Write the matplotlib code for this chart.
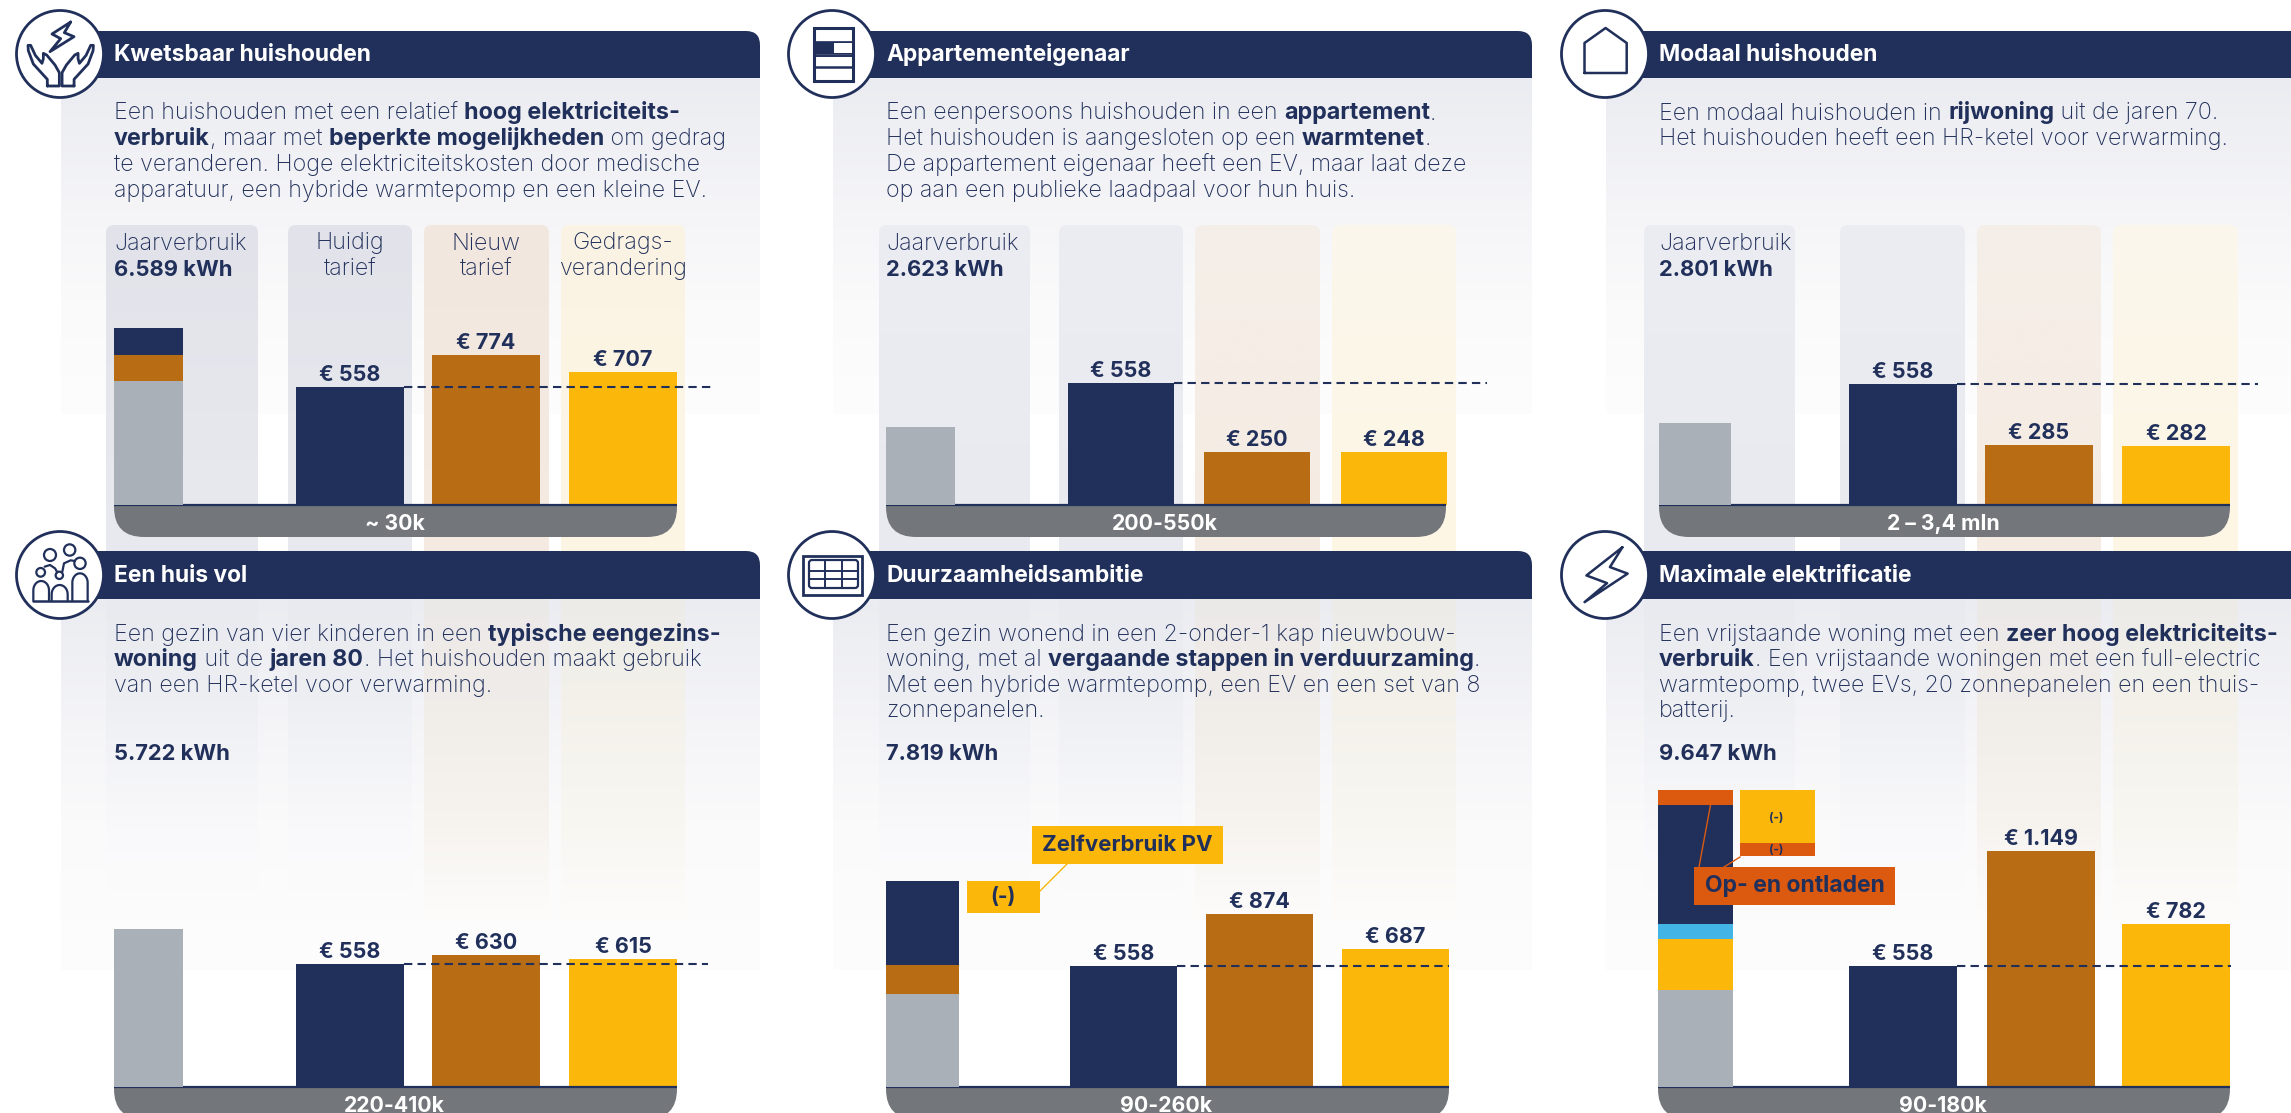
import numpy as np
import matplotlib
matplotlib.use("Agg")
import matplotlib.pyplot as plt
from matplotlib.colors import to_rgb
from matplotlib.patches import Circle, FancyBboxPatch, PathPatch, Rectangle
from matplotlib.path import Path

plt.rcParams['font.family'] = ['Inter', 'DejaVu Sans']

W, H = 2291, 1113
NAVY = '#21305b'
ORANGE = '#b86c14'
YELLOW = '#fbb80a'
GREY = '#a9b0b7'
BLUE = '#42b4e6'
RED = '#dc5a0f'
BAND = '#73777b'

# --- data
titles = ['Kwetsbaar huishouden', 'Appartementeigenaar', 'Modaal huishouden',
          'Een huis vol', 'Duurzaamheidsambitie', 'Maximale elektrificatie']
groups = ['~ 30k', '200-550k', '2 – 3,4 mln', '220-410k', '90-260k', '90-180k']
kwh_labels = ['6.589 kWh', '2.623 kWh', '2.801 kWh', '5.722 kWh', '7.819 kWh', '9.647 kWh']

# printed amounts
tariff_labels = [[558, 774, 707], [558, 250, 248], [558, 285, 282],
                 [558, 630, 615], [558, 874, 687], [558, 1149, 782]]
# the bars in the picture are not drawn to the printed amounts, these are read off the bars
tariff_bars = [[541, 692, 613], [561, 244, 244], [558, 276, 271],
               [566, 607, 587], [557, 796, 635], [557, 1086, 750]]

# stacked year consumption, bottom to top
kwh_1 = [(4616, GREY), (968, ORANGE), (1005, NAVY)]
kwh_2 = [(2623, GREY)]
kwh_3 = [(2801, GREY)]
kwh_4 = [(5722, GREY)]
kwh_5 = [(3530, GREY), (1101, ORANGE), (3188, NAVY)]
kwh_6 = [(3151, GREY), (1657, YELLOW), (474, BLUE), (3865, NAVY), (500, RED)]
kwh_stacks = [kwh_1, kwh_2, kwh_3, kwh_4, kwh_5, kwh_6]

# floating (-) blocks: panel index, value, value at the top of the block, colour
minus_blocks = [(4, 1214, 7819, YELLOW), (5, 1722, 9647, YELLOW), (5, 422, 7925, RED)]

texts = [
    [[('Een huishouden met een relatief ', 0), ('hoog elektriciteits-', 1)],
     [('verbruik', 1), (', maar met ', 0), ('beperkte mogelijkheden', 1), (' om gedrag', 0)],
     [('te veranderen. Hoge elektriciteitskosten door medische', 0)],
     [('apparatuur, een hybride warmtepomp en een kleine EV.', 0)]],
    [[('Een eenpersoons huishouden in een ', 0), ('appartement', 1), ('.', 0)],
     [('Het huishouden is aangesloten op een ', 0), ('warmtenet', 1), ('.', 0)],
     [('De appartement eigenaar heeft een EV, maar laat deze', 0)],
     [('op aan een publieke laadpaal voor hun huis.', 0)]],
    [[('Een modaal huishouden in ', 0), ('rijwoning', 1), (' uit de jaren 70.', 0)],
     [('Het huishouden heeft een HR-ketel voor verwarming.', 0)]],
    [[('Een gezin van vier kinderen in een ', 0), ('typische eengezins-', 1)],
     [('woning', 1), (' uit de ', 0), ('jaren 80', 1), ('. Het huishouden maakt gebruik', 0)],
     [('van een HR-ketel voor verwarming.', 0)]],
    [[('Een gezin wonend in een 2-onder-1 kap nieuwbouw-', 0)],
     [('woning, met al ', 0), ('vergaande stappen in verduurzaming', 1), ('.', 0)],
     [('Met een hybride warmtepomp, een EV en een set van 8', 0)],
     [('zonnepanelen.', 0)]],
    [[('Een vrijstaande woning met een ', 0), ('zeer hoog elektriciteits-', 1)],
     [('verbruik', 1), ('. Een vrijstaande woningen met een full-electric', 0)],
     [('warmtepomp, twee EVs, 20 zonnepanelen en een thuis-', 0)],
     [('batterij.', 0)]],
]

col_heads = ['Huidig\ntarief', 'Nieuw\ntarief', 'Gedrags-\nverandering']

# --- layout, in pixels of the picture
icon_x = [60, 832, 1605, 60, 832, 1605]
body_left = [61, 833, 1606, 61, 833, 1606]
head_right = [760, 1532, 2320, 760, 1532, 2320]
text_x = [114, 886, 1659, 114, 886, 1659]
kwh_bar_x = [(114, 183), (886, 955), (1659, 1731), (114, 183), (886, 959), (1658, 1733)]
tariff_bar_x = [[(296, 404), (432, 540), (569, 677)],
                [(1068, 1174), (1204, 1310), (1341, 1447)],
                [(1849, 1957), (1985, 2093), (2122, 2230)],
                [(296, 404), (432, 540), (569, 677)],
                [(1070, 1177), (1206, 1313), (1342, 1449)],
                [(1849, 1957), (1987, 2095), (2122, 2230)]]
band_x = [(114, 677), (886, 1446), (1659, 2230), (114, 677), (886, 1449), (1658, 2230)]
dash_end = [712, 1487, 2258, 708, 1449, 2231]
col_x = [[(106, 258), (288, 412), (424, 549), (561, 685)],
         [(879, 1030), (1059, 1183), (1195, 1320), (1332, 1456)],
         [(1644, 1795), (1840, 1965), (1977, 2101), (2113, 2238)]]
kwh_px = [177, 78, 82, 158, 206, 297]  # height of the stack
minus_x = [None, None, None, None, (967, 1040), (1740, 1815)]
EUR_PER_PX = 4.6
AX_PX = 320
BODY_SIZE = 16.75


def grad_rect(ax, x0, x1, y0, y1, stops, radius=0, zorder=1):
    ys = np.arange(y0, y1 + 1)
    pos = [s[0] for s in stops]
    cols = np.array([to_rgb(s[1]) for s in stops])
    img = np.stack([np.interp(ys, pos, cols[:, i]) for i in range(3)], axis=1)[:, None, :]
    im = ax.imshow(img, extent=(x0, x1, y1, y0), aspect='auto', interpolation='bilinear', zorder=zorder)
    if radius:
        clip = FancyBboxPatch((x0 + radius, y0 + radius), x1 - x0 - 2 * radius, y1 - y0,
                              boxstyle=f'round,pad={radius},rounding_size={radius}',
                              transform=ax.transData, fc='none', ec='none')
        im.set_clip_path(clip)
    return im


def rounded(x0, x1, y0, y1, r, corners):
    # corners: which of tl, tr, br, bl are rounded
    verts = []
    codes = []

    def corner(px, py, ax_, ay_, bx, by, on):
        if on:
            verts.extend([(ax_, ay_), (px, py), (bx, by)])
            codes.extend([Path.LINETO, Path.CURVE3, Path.CURVE3])
        else:
            verts.append((px, py))
            codes.append(Path.LINETO)
    corner(x0, y0, x0, y0 + r, x0 + r, y0, 'tl' in corners)
    corner(x1, y0, x1 - r, y0, x1, y0 + r, 'tr' in corners)
    corner(x1, y1, x1, y1 - r, x1 - r, y1, 'br' in corners)
    corner(x0, y1, x0 + r, y1, x0, y1 - r, 'bl' in corners)
    codes[0] = Path.MOVETO
    verts.append(verts[0])
    codes.append(Path.CLOSEPOLY)
    return Path(verts, codes)


def seg_width(ax, s, **kw):
    r = fig.canvas.get_renderer()
    a = ax.text(0, 0, s + '.', **kw)
    b = ax.text(0, 0, '.', **kw)
    w = a.get_window_extent(r).width - b.get_window_extent(r).width
    a.remove()
    b.remove()
    return w


def rich_line(ax, x, y, segs):
    for s, bold in segs:
        kw = dict(fontsize=BODY_SIZE, color=NAVY, weight='bold' if bold else 'light')
        ax.text(x, y, s, va='baseline', ha='left', zorder=6, **kw)
        x += seg_width(ax, s, **kw)


def stroke(ax, pts, lw=2.0, closed=False, **kw):
    p = np.array(pts, dtype=float)
    if closed:
        p = np.vstack([p, p[:1]])
    ax.plot(p[:, 0], p[:, 1], color=NAVY, lw=lw, solid_joinstyle='round', solid_capstyle='round', zorder=8, **kw)


def icon_hands(ax):
    pts = np.array([(142, 258), (142, 238), (100, 192), (85, 152), (84, 136), (92, 136), (106, 166), (126, 190),
                    (130, 176), (130, 160), (140, 165), (165, 195), (178, 218), (178, 258)]) / 3
    stroke(ax, pts, closed=True)
    m = pts.copy()
    m[:, 0] = 2 * 60.7 - m[:, 0]
    stroke(ax, m, closed=True)
    stroke(ax, np.array([(212, 66), (156, 102), (182, 116), (150, 155), (222, 110), (193, 98)]) / 3, closed=True)


def icon_family(ax):
    oy = 515
    for cx_, cy_, r in [(150, 120, 18), (209, 105, 17), (240, 145, 17), (122, 172, 13), (178, 181, 11)]:
        ax.add_patch(Circle((cx_ / 3, oy + cy_ / 3), r / 3, fc='white', ec=NAVY, lw=1.6, zorder=8))
    for x0, x1, tp in [(100, 147, 198), (155, 203, 210), (217, 263, 175)]:
        t = np.linspace(np.pi, 0, 20)
        xs = (x0 + x1) / 2 + (x1 - x0) / 2 * np.cos(t)
        ys = tp + 28 - 28 * np.sin(t)
        stroke(ax, np.column_stack([np.r_[x0, xs, x1] / 3, oy + np.r_[256, ys, 256] / 3]), lw=1.6)
    stroke(ax, [(98 / 3, oy + 257 / 3), (265 / 3, oy + 257 / 3)], lw=1.8)
    stroke(ax, np.array([(134, 155), (150, 150), (165, 160), (172, 172)]) / 3 + [0, oy], lw=1.6)
    stroke(ax, np.array([(187, 170), (192, 145), (212, 136), (224, 138)]) / 3 + [0, oy], lw=1.6)


def icon_building(ax):
    ax.add_patch(Rectangle((814, 28), 39, 53, fc='white', ec=NAVY, lw=2.2, zorder=8))
    ax.add_patch(Rectangle((814, 40.5), 39, 13.5, fc=NAVY, ec=NAVY, lw=0.5, zorder=8))
    ax.add_patch(Rectangle((834, 43), 17.5, 10, fc='white', ec='none', zorder=8))
    stroke(ax, [(814, 55.5), (853, 55.5)], lw=1.4)
    stroke(ax, [(814, 67), (853, 67)], lw=1.8)


def icon_house(ax):
    stroke(ax, [(1584.5, 73), (1584.5, 43), (1605.6, 28), (1626.7, 43), (1626.7, 73)], closed=True, lw=1.8)


def icon_solar(ax):
    ax.add_patch(Rectangle((803, 556), 59, 39, fc='white', ec=NAVY, lw=2.0, zorder=8))
    ax.add_patch(FancyBboxPatch((810, 561), 47, 26, boxstyle='round,pad=1,rounding_size=3', fc='white', ec=NAVY, lw=1.6, zorder=8))
    for x in (825, 842):
        stroke(ax, [(x, 560), (x, 588)], lw=1.4)
    for y in (571, 579):
        stroke(ax, [(809, y), (858, y)], lw=1.4)


def icon_bolt(ax):
    pts = [(172, 20), (97, 97), (140, 118), (93, 170), (183, 92), (146, 74)]
    stroke(ax, [(1540 + x / 2.088, 540 + y / 2.736) for x, y in pts], closed=True, lw=1.8)


icons = [icon_hands, icon_building, icon_house, icon_family, icon_solar, icon_bolt]

fig = plt.figure(figsize=(W / 100, H / 100), dpi=100, facecolor='white')

bg = fig.add_axes([0, 0, 1, 1], zorder=0)
bg.set_autoscale_on(False)
bg.set_xlim(0, W)
bg.set_ylim(H, 0)
bg.axis('off')

top = fig.add_axes([0, 0, 1, 1], zorder=5)
top.set_autoscale_on(False)
top.set_xlim(0, W)
top.set_ylim(H, 0)
top.axis('off')
top.patch.set_alpha(0)

for p in range(6):
    row = p // 3
    head_top = 31 if row == 0 else 551
    head_bot = 78 if row == 0 else 599
    base = 505 if row == 0 else 1087
    cy = 54 if row == 0 else 575

    # body gradient
    if row == 0:
        stops = [(78, '#ebecf1'), (210, '#f5f5f8'), (300, '#fafafb'), (414, '#fdfdfe')]
        grad_rect(bg, body_left[p], min(head_right[p], W), 78, 414, stops, zorder=1)
    else:
        stops = [(598, '#ebecf1'), (730, '#f5f5f8'), (820, '#fafafb'), (970, '#fdfdfe')]
        grad_rect(bg, body_left[p], min(head_right[p], W), 598, 970, stops, zorder=1)

    # column strips
    for c, (x0, x1) in enumerate(col_x[p % 3]):
        if row == 0:
            if p == 0:
                t = ['#e2e3ea', '#e2e3ea', '#f1e7de', '#faf3e3'][c]
            else:
                t = ['#ecedf2', '#ecedf2', '#f5efe9', '#fbf7ec'][c]
            b = ['#e9eaef', '#e9eaef', '#f5ebe2', '#fef6e5'][c]
            grad_rect(bg, x0, x1, 225, 552, [(225, t), (552, b)], radius=8, zorder=2)
        else:
            t = ['#e9eaef', '#e9eaef', '#ebe9e9', '#ecebe8'][c]
            m = ['#eeeff3', '#eeeff3', '#f0ece8', '#f3f1ea'][c]
            l = ['#f9f9fb', '#f9f9fb', '#f7f4f0', '#f9f7f2'][c]
            grad_rect(bg, x0, x1, 598, 920, [(598, t), (700, m), (830, l), (920, '#fdfcfb')], zorder=2)

    # header
    corners = ('tr',) if head_right[p] < W else ()
    bg.add_patch(PathPatch(rounded(icon_x[p], head_right[p], head_top, head_bot, 14, corners),
                           fc=NAVY, ec='none', zorder=3))
    bg.text(text_x[p], (head_top + head_bot) / 2 + 0.5, titles[p], color='white', fontsize=16.4, weight='bold',
            va='center', ha='left', zorder=4)

    # group band below the bars
    x0, x1 = band_x[p]
    bg.add_patch(PathPatch(rounded(x0, x1, base, base + 32, 30, ('br', 'bl')), fc=BAND, ec='none', zorder=3))
    bg.text((x0 + x1) / 2 - 1, base + 19.5, groups[p], color='white', fontsize=15.3, weight='bold',
            va='center', ha='center', zorder=4)

    # description
    first = 119.5 if row == 0 else 640.5
    step = 25.8 if row == 0 else 25.6
    for i, line in enumerate(texts[p]):
        rich_line(top, text_x[p], first + i * step, line)

    # column heads
    if row == 0:
        top.text(text_x[p], 249.5, 'Jaarverbruik', fontsize=BODY_SIZE, color=NAVY, weight='light', va='baseline', zorder=6)
        kwh_y = 275.5
    else:
        kwh_y = 759.5
    top.text(text_x[p], kwh_y, kwh_labels[p], fontsize=15.8, color=NAVY, weight='bold', va='baseline', zorder=6)
    if p == 0:
        for (xa, xb), head in zip(tariff_bar_x[p], col_heads):
            a, b = head.split('\n')
            top.text((xa + xb) / 2, 249.5, a, fontsize=BODY_SIZE, color=NAVY, weight='light', ha='center', va='baseline', zorder=6)
            top.text((xa + xb) / 2, 275.5, b, fontsize=BODY_SIZE, color=NAVY, weight='light', ha='center', va='baseline', zorder=6)

    # icon
    top.add_patch(Circle((icon_x[p], cy), 43.5, fc='white', ec=NAVY, lw=2.0, zorder=7))
    icons[p](top)

    # chart axes: x in picture pixels, y in euro and kWh
    left = band_x[p][0] - 10
    right = dash_end[p] + 10
    ax = fig.add_axes([left / W, 1 - base / H, (right - left) / W, AX_PX / H], zorder=2)
    ax.set_xlim(left, right)
    ax.set_ylim(0, AX_PX * EUR_PER_PX)
    ax.axis('off')
    ax_kwh = ax.twinx()
    total = sum(v for v, _ in kwh_stacks[p])
    ax_kwh.set_ylim(0, total * AX_PX / kwh_px[p])
    ax_kwh.axis('off')
    ax_kwh.patch.set_alpha(0)

    # stacked year consumption
    xa, xb = kwh_bar_x[p]
    bottom = 0
    for v, col in kwh_stacks[p]:
        ax_kwh.bar((xa + xb) / 2, v, width=xb - xa, bottom=bottom, color=col, linewidth=0)
        bottom += v
    for pi, v, tp, col in minus_blocks:
        if pi == p:
            ma, mb = minus_x[p]
            ax_kwh.bar((ma + mb) / 2, v, width=mb - ma, bottom=tp - v, color=col, linewidth=0)

    # tariff bars
    pos = [(a + b) / 2 for a, b in tariff_bar_x[p]]
    widths = [b - a for a, b in tariff_bar_x[p]]
    ax.bar(pos, tariff_bars[p], width=widths, color=[NAVY, ORANGE, YELLOW], linewidth=0)
    for xp, hv, lab in zip(pos, tariff_bars[p], tariff_labels[p]):
        ax.annotate('€ ' + f'{lab:,}'.replace(',', '.'), (xp, hv), xytext=(0, 8.6), textcoords='offset points',
                    ha='center', va='center', fontsize=15.5, weight='bold', color=NAVY, annotation_clip=False)
    ax.plot([tariff_bar_x[p][0][1], dash_end[p]], [tariff_bars[p][0]] * 2, color=NAVY, lw=1.5, dashes=(4, 2.5))
    ax.plot(band_x[p], [0, 0], color=NAVY, lw=1.6, clip_on=False, solid_capstyle='butt')

# callouts
top.add_patch(Rectangle((1032, 826), 191, 38, fc=YELLOW, ec='none', zorder=6))
top.text(1127.5, 845, 'Zelfverbruik PV', fontsize=16, weight='bold', color=NAVY, ha='center', va='center', zorder=7)
top.plot([1040, 1067], [891, 864], color=YELLOW, lw=1, zorder=5)
top.text(1003, 897, '(-)', fontsize=15, weight='bold', color=NAVY, ha='center', va='center', zorder=7)

top.add_patch(Rectangle((1694, 867), 201, 38, fc=RED, ec='none', zorder=6))
top.text(1794.5, 886, 'Op- en ontladen', fontsize=16.5, weight='bold', color=NAVY, ha='center', va='center', zorder=7)
top.plot([1710.5, 1699], [805, 867], color=RED, lw=1, zorder=5)
top.plot([1740, 1724], [857, 867], color=RED, lw=1, zorder=5)
top.text(1776, 818, '(-)', fontsize=8.5, weight='bold', color=NAVY, ha='center', va='center', zorder=7)
top.text(1776, 850, '(-)', fontsize=8.5, weight='bold', color=NAVY, ha='center', va='center', zorder=7)

fig.savefig('out.png', dpi=100)
